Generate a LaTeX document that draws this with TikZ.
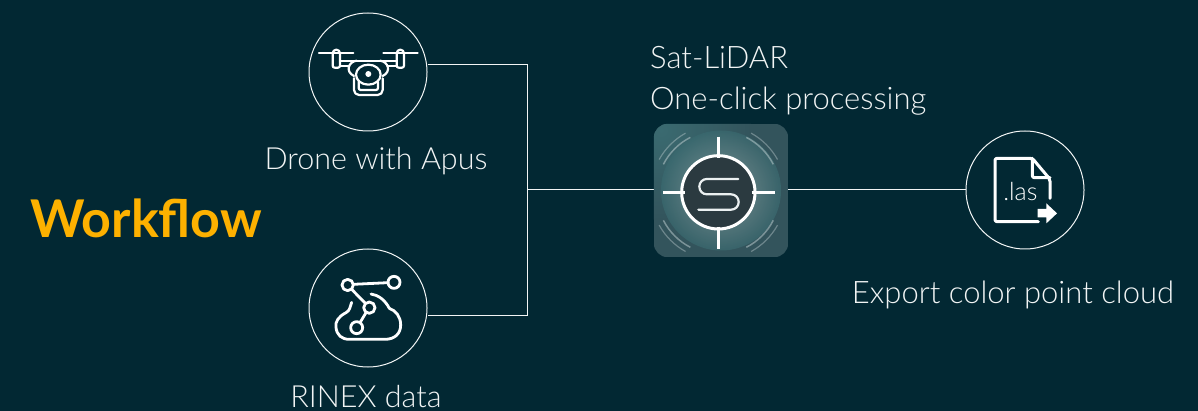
\documentclass[tikz,border=0pt]{standalone}
\usepackage{fontspec}
\setmainfont{Lato}[UprightFont=* Light,BoldFont=* Bold]
\usetikzlibrary{shadings}
\definecolor{bg}{HTML}{022833}
\definecolor{wfc}{HTML}{FDB100}
\definecolor{linec}{HTML}{F2F5F5}
\definecolor{appa}{HTML}{3A6A70}
\definecolor{appb}{HTML}{33545C}
\definecolor{appglow}{HTML}{9AA8A8}
\definecolor{appdark}{HTML}{2B3A40}
\tikzset{
  ring/.style={circle,draw=linec,line width=1pt,minimum size=118pt,inner sep=0pt},
  link/.style={draw=linec,line width=1pt},
  lbl/.style={text=linec,font=\fontsize{30.5}{34}\selectfont,inner sep=0pt,anchor=base},
  lblb/.style={text=linec,font=\fontsize{31}{34}\selectfont,inner sep=0pt,anchor=base west},
  ico/.style={draw=white,line width=2.2pt,line cap=round,line join=round}
}
\begin{document}
\begin{tikzpicture}[x=1pt,y=-1pt]
\useasboundingbox (0,0) rectangle (1198,411);
\fill[bg] (0,0) rectangle (1198,411);
% nodes
\node[ring] (drone) at (368,72) {};
\node[ring] (rinex) at (368,308) {};
\node[ring] (las) at (1025,190) {};
\node[inner sep=0pt,minimum width=134pt,minimum height=133pt] (app) at (721,190.5) {};
\coordinate (j1) at (527,65);
\coordinate (j2) at (527,315);
\coordinate (j3) at (527,190);
\path[link] (drone.east |- j1) -- (j1) -- (j2) -- (rinex.east |- j2);
\path[link] (j3) -- (app.west |- j3);
\path[link] (app.east |- j3) -- (las.west |- j3);
% app icon
\begin{scope}
\clip[rounded corners=14pt] (app.south west) rectangle (app.north east);
\fill[appb] (app.south west) rectangle (app.north east);
\shade[inner color=appa,outer color=appb] (661,130) circle (90pt);
\shade[inner color=appglow,outer color=appa,opacity=0.7] (app.center) circle (60pt);
\end{scope}
\begin{scope}[shift={(640,115)},x=0.33333pt,y=-0.33333pt]
\foreach \a in {45,135,225,315}{
  \draw[white!70!appa,line width=1.5pt,opacity=0.5] (235,232)++(\a-18:185) arc[start angle=\a-18,end angle=\a+18,radius=185];
  \draw[white!70!appa,line width=1.2pt,opacity=0.4] (235,232)++(\a-16:203) arc[start angle=\a-16,end angle=\a+16,radius=203];
}
\fill[appdark] (235,232) circle (108);
\draw[white,line width=3pt] (235,232) circle (110);
\draw[white,line width=2.6pt] (235,65) -- (235,130) (235,335) -- (235,402) (70,232) -- (135,232) (335,232) -- (405,232);
\draw[white!90!appa,line width=2.2pt,line cap=round,rounded corners=7.5pt] (295,192) -- (178,192) -- (178,238) -- (296,238) -- (296,284) -- (175,284);
\end{scope}
% drone icon
\begin{scope}[shift={(290,0)},x=0.33333pt,y=-0.33333pt]
\draw[ico] (87,160) -- (190,160);
\draw[ico] (280,160) -- (383,160);
\draw[ico,rounded corners=2pt] (128,160) -- (128,203) -- (150,203) -- (150,160);
\draw[ico] (128,160) arc[start angle=180,end angle=360,radius=11];
\draw[ico,rounded corners=2pt] (320,160) -- (320,203) -- (342,203) -- (342,160);
\draw[ico] (320,160) arc[start angle=180,end angle=360,radius=11];
\draw[ico] (150,182) -- (320,182) (150,197) -- (178,197) (292,197) -- (320,197);
\draw[ico] (192,228) .. controls (165,215) and (175,185) .. (200,182);
\draw[ico] (278,228) .. controls (305,215) and (295,185) .. (270,182);
\draw[ico,fill=bg] (235,224) ellipse (37 and 30);
\fill[white] (235,222) circle (9);
\draw[ico,rounded corners=5pt] (192,235) -- (192,285) -- (278,285) -- (278,235);
\draw[ico,rounded corners=2pt] (206,245) -- (206,270) -- (264,270) -- (264,245);
\end{scope}
% cloud icon
\begin{scope}[shift={(290,240)},x=0.33333pt,y=-0.33333pt]
\draw[ico,line width=2.8pt] (173,135) circle (17) (312,127) circle (18) (238,203) circle (17) (200,263) circle (18);
\draw[ico,line width=2.8pt] (190,133) -- (294,128) (185,148) -- (226,190) (228,218) -- (210,248);
\draw[ico,line width=2.8pt] (185,187) .. controls (180,200) and (180,212) .. (168,218) .. controls (145,230) and (135,245) .. (138,262) .. controls (140,285) and (155,298) .. (178,298) -- (285,298) .. controls (315,298) and (332,280) .. (332,255) .. controls (332,230) and (318,212) .. (298,205) .. controls (285,180) and (265,165) .. (243,162);
\end{scope}
% las icon
\begin{scope}[shift={(955,120)},x=0.33333pt,y=-0.33333pt]
\draw[ico,line width=3pt,rounded corners=2pt] (285,235) -- (285,178) -- (232,115) -- (120,115) -- (120,305) -- (250,305);
\draw[ico,line width=3pt,rounded corners=2pt] (232,115) -- (232,173) -- (285,173);
\fill[white] (248,267) -- (274,267) -- (274,250) -- (306,280) -- (274,310) -- (274,292) -- (248,292) -- cycle;
\node[text=white,inner sep=0pt,font=\fontsize{25}{28}\selectfont,anchor=base] (lastext) at (196,243) {.las};
\end{scope}
% labels
\node[lbl] (t1) at (376,169.5) {Drone with Apus};
\node[lbl] (t2) at (366,407) {RINEX data};
\node[lblb] (t3) at (650,69) {Sat-LiDAR};
\node[lblb] (t4) at (650,109.5) {One-click processing};
\node[lblb,anchor=base] (t5) at (1013,304) {Export color point cloud};
\node[anchor=base west,inner sep=0pt,text=wfc,font=\bfseries\fontsize{52}{56}\selectfont] (t6) at (30,238) {Workflow};
\end{tikzpicture}
\end{document}
